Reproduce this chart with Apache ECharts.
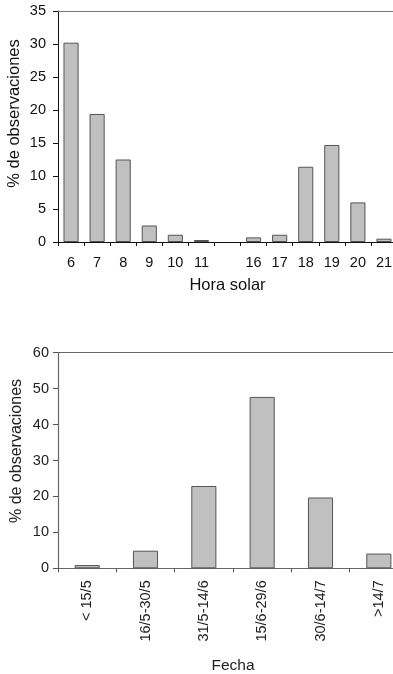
<!DOCTYPE html>
<html>
<head>
<meta charset="utf-8">
<script src="https://cdn.jsdelivr.net/npm/echarts@6/dist/echarts.min.js"></script>
<style>
  html, body { margin: 0; padding: 0; background: #fff; }
  #chart { width: 393px; height: 674px; }
</style>
</head>
<body>
<div id="chart"></div>
<script>
// Observations by solar hour (the empty slot separates morning and evening)
const horas = ['6', '7', '8', '9', '10', '11', '', '16', '17', '18', '19', '20', '21'];
const pctHora = [30.2, 19.4, 12.5, 2.5, 1.1, 0.3, null, 0.7, 1.1, 11.4, 14.7, 6.0, 0.5];
const ejeHora = [0, 35, 5]; // min, max, step

// Observations by date interval
const fechas = ['< 15/5', '16/5-30/5', '31/5-14/6', '15/6-29/6', '30/6-14/7', '>14/7'];
const pctFecha = [0.9, 4.9, 22.9, 47.7, 19.7, 4.1];
const ejeFecha = [0, 60, 10];

const FONT = "'Liberation Sans', Arial, sans-serif";
const barStyle = { color: '#c0c0c0', borderColor: '#555', borderWidth: 1 };

const chart = echarts.init(document.getElementById('chart'), null, { renderer: 'canvas' });

chart.setOption({
  animation: false,
  textStyle: { fontFamily: FONT },
  grid: [
    { left: 58, top: 11, width: 339, height: 231, containLabel: false, outerBoundsMode: 'none' },
    { left: 58, top: 352.7, width: 350, height: 215.6, containLabel: false, outerBoundsMode: 'none' }
  ],
  xAxis: [
    {
      gridIndex: 0, type: 'category', data: horas,
      axisLine: { lineStyle: { color: '#111', width: 1 } },
      axisTick: { show: true, length: 4, lineStyle: { color: '#111' } },
      axisLabel: { color: '#111', fontSize: 14.5, margin: 13, interval: 0, fontFamily: FONT },
      name: 'Hora solar', nameLocation: 'middle', nameGap: 35, nameMoveOverlap: false,
      nameTextStyle: { color: '#111', fontSize: 16.5, fontFamily: FONT }
    },
    {
      // top frame line
      gridIndex: 0, type: 'category', data: horas, position: 'top',
      axisLine: { lineStyle: { color: '#777', width: 1 } },
      axisTick: { show: false }, axisLabel: { show: false }
    },
    {
      gridIndex: 1, type: 'category', data: fechas,
      axisLine: { lineStyle: { color: '#666', width: 1.2 } },
      axisTick: { show: true, length: 4, lineStyle: { color: '#555' } },
      axisLabel: { color: '#222', fontSize: 14.5, margin: 12, interval: 0, rotate: 90, fontFamily: FONT },
      name: 'Fecha', nameLocation: 'middle', nameGap: 89, nameMoveOverlap: false,
      nameTextStyle: { color: '#222', fontSize: 15.5, fontFamily: FONT }
    },
    {
      gridIndex: 1, type: 'category', data: fechas, position: 'top',
      axisLine: { lineStyle: { color: '#666', width: 1.2 } },
      axisTick: { show: false }, axisLabel: { show: false }
    }
  ],
  yAxis: [
    {
      gridIndex: 0, type: 'value', min: ejeHora[0], max: ejeHora[1], interval: ejeHora[2],
      axisLine: { show: true, lineStyle: { color: '#111', width: 1 } },
      axisTick: { show: true, length: 5, lineStyle: { color: '#111' } },
      axisLabel: { color: '#111', fontSize: 14.5, margin: 12, fontFamily: FONT },
      splitLine: { show: false },
      name: '% de observaciones', nameLocation: 'middle', nameGap: 35, nameMoveOverlap: false,
      nameTextStyle: { color: '#111', fontSize: 16.5, fontFamily: FONT, padding: [0, 0, 0, 26] }
    },
    {
      gridIndex: 1, type: 'value', min: ejeFecha[0], max: ejeFecha[1], interval: ejeFecha[2],
      axisLine: { show: true, lineStyle: { color: '#666', width: 1.2 } },
      axisTick: { show: true, length: 5, lineStyle: { color: '#555' } },
      axisLabel: { color: '#222', fontSize: 14.5, margin: 9, fontFamily: FONT },
      splitLine: { show: false },
      name: '% de observaciones', nameLocation: 'middle', nameGap: 33, nameMoveOverlap: false,
      nameTextStyle: { color: '#222', fontSize: 16, fontFamily: FONT, padding: [0, 0, 0, 19] }
    }
  ],
  series: [
    {
      type: 'bar', xAxisIndex: 0, yAxisIndex: 0, data: pctHora,
      barCategoryGap: '42%', itemStyle: barStyle
    },
    {
      type: 'bar', xAxisIndex: 2, yAxisIndex: 1, data: pctFecha,
      barCategoryGap: '57%', itemStyle: barStyle
    }
  ]
});
</script>
</body>
</html>
